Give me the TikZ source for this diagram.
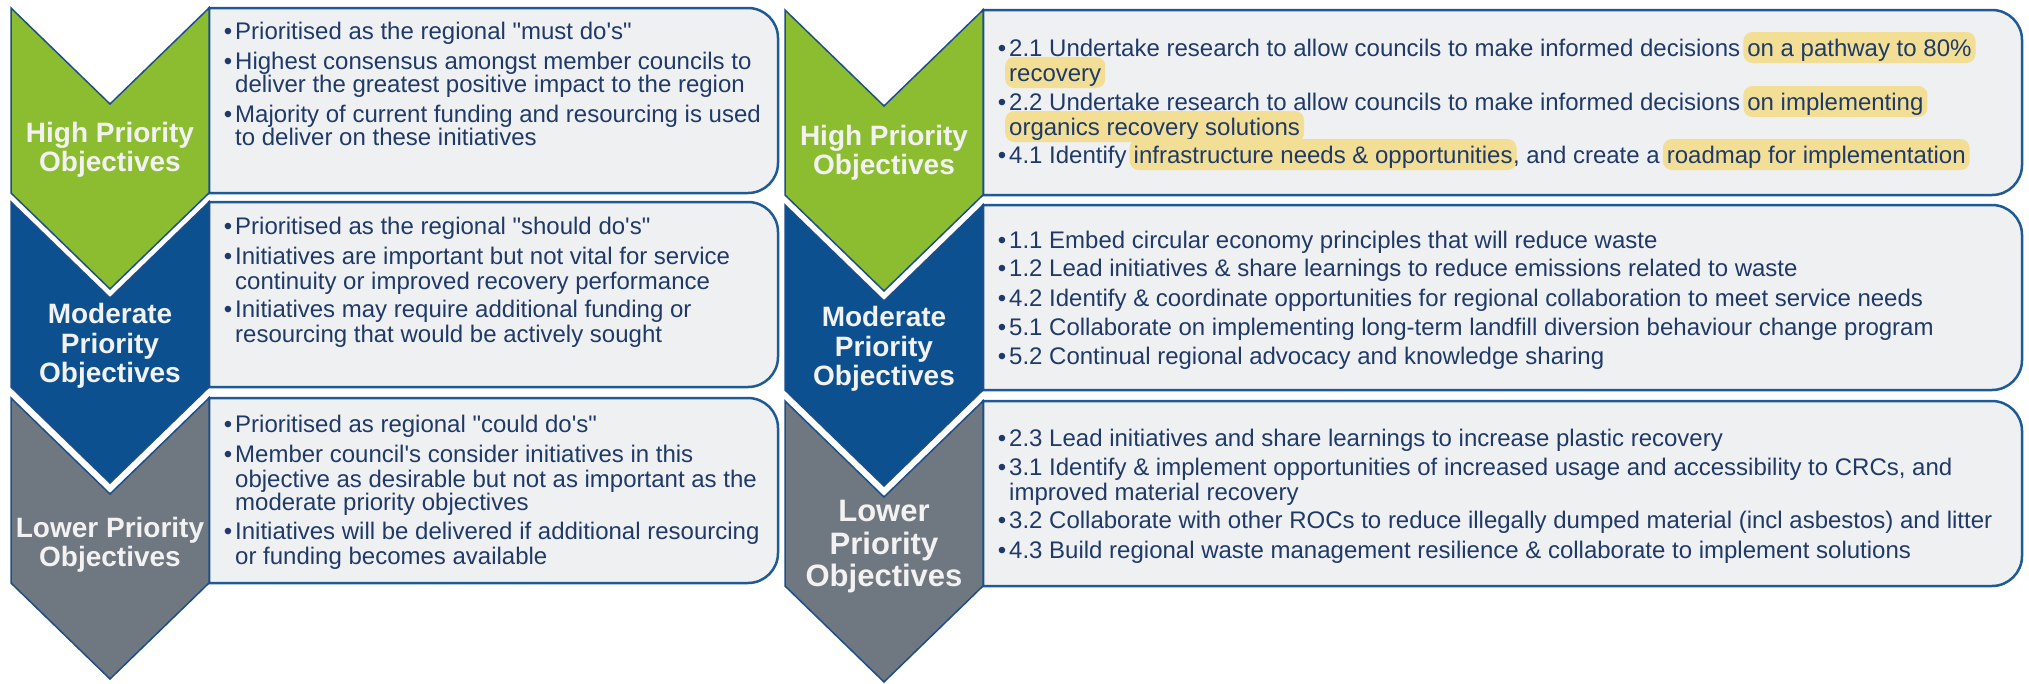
\documentclass[tikz,border=0pt]{standalone}
\usepackage{fontspec}
\setmainfont{Liberation Sans}
\usetikzlibrary{calc}
\definecolor{cgreen}{HTML}{8CBD31}
\definecolor{cblue}{HTML}{0C5090}
\definecolor{cgrey}{HTML}{6F7780}
\definecolor{cline}{HTML}{1D4E89}
\definecolor{boxfill}{HTML}{EFF0F2}
\definecolor{boxline}{HTML}{1D5A96}
\definecolor{txtc}{HTML}{1F3A68}
\definecolor{hlc}{HTML}{F2DF95}
\definecolor{lblc}{HTML}{F2F2F2}
\newcommand\bul{\llap{\textbullet\hspace{3pt}}}
\newcommand\ap{\textquotesingle}
\newcommand\dq{\textquotedbl}
\newcommand\chv[3]{\filldraw[chev, fill=#3] (#1,#2) -- ++(99,96) -- ++(99,-96) -- ++(0,185) -- ++(-99,96) -- ++(-99,-96) -- cycle;}
\newcommand\pnl[3]{\draw[panel] (#1,#3) [rounded corners=30pt] -- (#2,#3) -- (#2,#3+185) [sharp corners] -- (#1,#3+185) -- cycle;}
\begin{document}
\begin{tikzpicture}[x=1pt,y=-1pt,
 chev/.style={draw=cline, line width=1.5pt, line join=miter},
 panel/.style={fill=boxfill, draw=boxline, line width=2.5pt},
 txt/.style={anchor=base west, inner sep=0pt, text=txtc, font=\fontsize{24}{24}\selectfont},
 hl/.style={txt, fill=hlc, rounded corners=9pt, inner xsep=4pt, inner ysep=0pt, text height=24pt, text depth=7pt},
 lbl/.style={align=center, inner sep=0pt, text=lblc, font=\fontsize{28}{29.5}\selectfont\bfseries},
 lblbig/.style={lbl, font=\fontsize{31}{32.5}\selectfont\bfseries},
]
\useasboundingbox (0,0) rectangle (2029,683);
% panels
\pnl{209}{778}{8}
\pnl{209}{778}{202}
\pnl{209}{778}{398}
\pnl{983}{2022}{10}
\pnl{983}{2022}{205}
\pnl{983}{2022}{401}
% chevrons
\chv{11}{8}{cgreen}
\chv{11}{202}{cblue}
\chv{11}{398}{cgrey}
\chv{785}{10}{cgreen}
\chv{785}{205}{cblue}
\chv{785}{401}{cgrey}
% chevron labels
\node[lbl] (lg) at (110,150) {High Priority\\Objectives};
\node[lbl] (lb) at (110,346) {Moderate\\Priority\\Objectives};
\node[lbl] (lr) at (110,545) {Lower Priority\\Objectives};
\node[lbl] (rg) at (884,153) {High Priority\\Objectives};
\node[lbl] (rb) at (884,349) {Moderate\\Priority\\Objectives};
\node[lblbig] (rr) at (884,547) {Lower\\Priority\\Objectives};
% left box 1
\node[txt] (a1) at (235,39) {\bul Prioritised as the regional \dq must do\ap s\dq};
\node[txt] (a2) at (235,69) {\bul Highest consensus amongst member councils to};
\node[txt] (a3) at (235,92) {deliver the greatest positive impact to the region};
\node[txt] (a4) at (235,122) {\bul Majority of current funding and resourcing is used};
\node[txt] (a5) at (235,145) {to deliver on these initiatives};
% left box 2
\node[txt] (b1) at (235,234) {\bul Prioritised as the regional \dq should do\ap s\dq};
\node[txt] (b2) at (235,264) {\bul Initiatives are important but not vital for service};
\node[txt] (b3) at (235,289) {continuity or improved recovery performance};
\node[txt] (b4) at (235,317) {\bul Initiatives may require additional funding or};
\node[txt] (b5) at (235,342) {resourcing that would be actively sought};
% left box 3
\node[txt] (c1) at (235,432) {\bul Prioritised as regional \dq could do\ap s\dq};
\node[txt] (c2) at (235,462) {\bul Member council\ap s consider initiatives in this};
\node[txt] (c3) at (235,487) {objective as desirable but not as important as the};
\node[txt] (c4) at (235,510) {moderate priority objectives};
\node[txt] (c5) at (235,539) {\bul Initiatives will be delivered if additional resourcing};
\node[txt] (c6) at (235,564) {or funding becomes available};
% right box 1
\node[txt] (d1) at (1009,56) {\bul 2.1 Undertake research to allow councils to make informed decisions};
\node[hl, xshift=2.7pt] (d1h) at (d1.base east) {on a pathway to 80\%};
\node[hl] (d2h) at (1005,81) {recovery};
\node[txt] (d3) at (1009,110) {\bul 2.2 Undertake research to allow councils to make informed decisions};
\node[hl, xshift=2.7pt] (d3h) at (d3.base east) {on implementing};
\node[hl] (d4h) at (1005,135) {organics recovery solutions};
\node[txt] (d5) at (1009,163) {\bul 4.1 Identify};
\node[hl, xshift=2.7pt] (d5h) at (d5.base east) {infrastructure needs \& opportunities};
\node[txt, xshift=-4pt] (d5b) at (d5h.base east) {, and create a};
\node[hl, xshift=2.7pt] (d5c) at (d5b.base east) {roadmap for implementation};
% right box 2
\node[txt] (e1) at (1009,248) {\bul 1.1 Embed circular economy principles that will reduce waste};
\node[txt] (e2) at (1009,276) {\bul 1.2 Lead initiatives \& share learnings to reduce emissions related to waste};
\node[txt] (e3) at (1009,306) {\bul 4.2 Identify \& coordinate opportunities for regional collaboration to meet service needs};
\node[txt] (e4) at (1009,335) {\bul 5.1 Collaborate on implementing long-term landfill diversion behaviour change program};
\node[txt] (e5) at (1009,364) {\bul 5.2 Continual regional advocacy and knowledge sharing};
% right box 3
\node[txt] (f1) at (1009,446) {\bul 2.3 Lead initiatives and share learnings to increase plastic recovery};
\node[txt] (f2) at (1009,475) {\bul 3.1 Identify \& implement opportunities of increased usage and accessibility to CRCs, and};
\node[txt] (f3) at (1009,500) {improved material recovery};
\node[txt] (f4) at (1009,528) {\bul 3.2 Collaborate with other ROCs to reduce illegally dumped material (incl asbestos) and litter};
\node[txt] (f5) at (1009,558) {\bul 4.3 Build regional waste management resilience \& collaborate to implement solutions};
\end{tikzpicture}
\end{document}
